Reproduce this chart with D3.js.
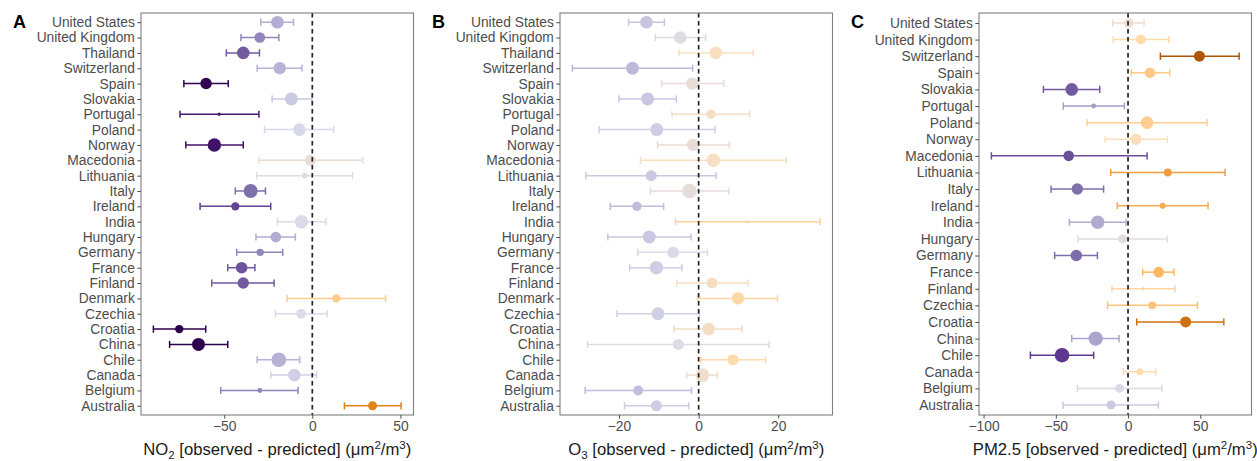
<!DOCTYPE html>
<html lang="en">
<head>
    <meta charset="utf-8">
    <title>Observed - predicted by country</title>
    <style>
        body { margin: 0; background: #fff; }
        svg text { font-family: "Liberation Sans", Arial, sans-serif; }
        .axis text { fill: #4d4d4d; font-size: 13.8px; }
        .axis line { stroke: #4d4d4d; }
        .axis .domain { display: none; }
        .frame { fill: none; stroke: #7f7f7f; stroke-width: 1.1px; }
        .zero { stroke: #222; stroke-width: 1.7px; stroke-dasharray: 4.5, 3.5; }
        .bar { fill: none; stroke-width: 1.5px; }
        .letter { font-size: 18px; font-weight: bold; fill: #000; }
        .xtitle { font-size: 16.7px; fill: #1a1a1a; }
    </style>
</head>
<body>

<script src="https://cdn.jsdelivr.net/npm/d3@7"></script>

<script>

    // countries, top to bottom
    var countriesAB = ["United States", "United Kingdom", "Thailand", "Switzerland", "Spain", "Slovakia",
        "Portugal", "Poland", "Norway", "Macedonia", "Lithuania", "Italy", "Ireland", "India", "Hungary",
        "Germany", "France", "Finland", "Denmark", "Czechia", "Croatia", "China", "Chile", "Canada",
        "Belgium", "Australia"];
    var countriesC = ["United States", "United Kingdom", "Switzerland", "Spain", "Slovakia", "Portugal",
        "Poland", "Norway", "Macedonia", "Lithuania", "Italy", "Ireland", "India", "Hungary", "Germany",
        "France", "Finland", "Czechia", "Croatia", "China", "Chile", "Canada", "Belgium", "Australia"];

    // NO2
    var no2Est = [-19.8, -29.8, -39.2, -18.5, -60.3, -11.9, -52.9, -7.3, -55.6, -1.1, -4.3, -35.0, -43.7,
        -6.2, -20.7, -29.6, -40.1, -39.2, 13.6, -6.4, -75.5, -64.6, -19.0, -10.2, -29.8, 34.2];
    var no2Lo = [-29.2, -40.5, -48.8, -31.3, -72.9, -22.8, -75.1, -27.1, -71.8, -30.3, -31.6, -43.7, -63.7,
        -19.8, -32.0, -42.9, -48.0, -57.1, -14.3, -20.9, -90.2, -81.0, -31.3, -23.6, -52.0, 18.2];
    var no2Hi = [-10.7, -19.0, -30.0, -5.9, -47.7, -0.2, -30.3, 12.2, -39.2, 28.6, 22.8, -26.6, -23.6,
        7.7, -9.6, -16.8, -32.6, -21.7, 41.6, 8.5, -60.5, -48.0, -7.2, 2.4, -8.1, 50.4];
    var no2N = [71, 50, 71, 68, 58, 75, 5, 71, 80, 54, 14, 87, 31, 80, 50, 24, 60, 58, 31, 41, 31, 75, 95, 71, 11, 36];
    var no2Ticks = [-50, 0, 50];

    // O3
    var o3Est = [-13.1, -4.6, 4.3, -16.6, -1.6, -12.8, 3.1, -10.5, -1.4, 3.7, -11.9, -2.3, -15.5,
        12.2, -12.4, -6.4, -10.6, 3.4, 9.9, -10.2, 2.5, -5.1, 8.6, 1.0, -15.2, -10.6];
    var o3Lo = [-17.6, -10.9, -4.9, -31.7, -9.3, -20.0, -6.7, -25.0, -10.3, -14.6, -28.3, -12.1, -22.2,
        -5.8, -22.8, -15.3, -17.3, -5.5, -0.3, -20.5, -6.2, -27.9, 0.5, -3.0, -28.5, -18.6];
    var o3Hi = [-8.6, 1.8, 13.7, -1.5, 6.3, -5.6, 12.8, 4.1, 7.7, 22.0, 4.4, 7.6, -8.8,
        30.5, -1.9, 2.2, -4.2, 12.4, 19.8, 0.2, 10.9, 17.7, 16.8, 4.7, -1.8, -2.5];
    var o3N = [71, 68, 71, 75, 68, 75, 39, 75, 68, 80, 54, 95, 39, 4, 75, 58, 80, 54, 68, 75, 71, 54, 54, 82, 44, 54];
    var o3Ticks = [-20, 0, 20];

    // PM2.5
    var pmEst = [0.5, 8.8, 49.4, 15.2, -39.0, -23.8, 13.2, 5.5, -41.1, 27.5, -35.1, 24.0, -21.0, -3.7,
        -35.8, 21.2, 10.6, 16.8, 39.9, -22.4, -45.7, 8.1, -5.8, -11.8];
    var pmLo = [-10.6, -10.2, 22.4, 2.1, -58.6, -44.8, -28.4, -15.9, -94.6, -12.0, -53.3, -7.4, -40.6, -34.6,
        -50.8, 10.1, -11.1, -14.1, 6.0, -39.0, -67.6, -3.2, -35.1, -45.0];
    var pmHi = [11.1, 28.2, 76.9, 28.9, -19.6, -2.5, 54.7, 27.2, 13.2, 67.2, -16.9, 55.4, -1.4, 27.2,
        -21.2, 31.8, 32.5, 48.0, 66.3, -6.2, -23.8, 19.2, 23.5, 21.0];
    var pmN = [39, 44, 54, 50, 71, 11, 71, 58, 50, 28, 58, 16, 80, 36, 58, 50, 5, 28, 54, 92, 95, 22, 36, 36];
    var pmTicks = [-100, -50, 0, 50];

    var puor = ["#2d004b", "#542788", "#8073ac", "#b2abd2", "#d8daeb",
                "#fee0b6", "#fdb863", "#e08214", "#b35806", "#7f3b08"];

    // ************** Layout *****************
    var width = 1257,
        height = 461,
        panelW = width / 3,
        margin = {top: 13, right: 5.5, bottom: 46, left: 141};

    var colour = d3.scaleSequential(d3.piecewise(d3.interpolateLab, puor))
        .domain([-62, 62])
        .clamp(true);

    var size = d3.scaleSqrt()
        .domain([0, 100])
        .range([0, 7.5]);

    var svg = d3.select("body").append("svg")
        .attr("width", width)
        .attr("height", height);

    var panels = [
        {letter: "A", countries: countriesAB, est: no2Est, lo: no2Lo, hi: no2Hi, n: no2N, ticks: no2Ticks, gas: "NO", sub: "2"},
        {letter: "B", countries: countriesAB, est: o3Est, lo: o3Lo, hi: o3Hi, n: o3N, ticks: o3Ticks, gas: "O", sub: "3"},
        {letter: "C", countries: countriesC, est: pmEst, lo: pmLo, hi: pmHi, n: pmN, ticks: pmTicks, gas: "PM2.5", sub: null}
    ];

    panels.forEach(drawPanel);

    function drawPanel(p, i) {

        var g = svg.append("g")
            .attr("transform", "translate(" + (i * panelW) + ",0)");

        var rows = p.countries.map(function(c, j) {
            return {country: c, est: p.est[j], lo: p.lo[j], hi: p.hi[j], n: p.n[j]};
        });

        // ggplot-like 5% expansion
        var lo = d3.min(p.lo), hi = d3.max(p.hi), pad = (hi - lo) * 0.05;

        var x = d3.scaleLinear()
            .domain([lo - pad, hi + pad])
            .range([margin.left, panelW - margin.right]);

        var y = d3.scalePoint()
            .domain(p.countries)
            .range([margin.top, height - margin.bottom])
            .padding(0.6);

        // error bars
        var bars = g.selectAll("g.bar")
            .data(rows)
            .enter().append("g")
            .attr("class", "bar")
            .style("stroke", function(d) { return colour(d.est); });

        bars.append("line")
            .attr("x1", function(d) { return x(d.lo); })
            .attr("x2", function(d) { return x(d.hi); })
            .attr("y1", function(d) { return y(d.country); })
            .attr("y2", function(d) { return y(d.country); });

        bars.append("line")
            .attr("x1", function(d) { return x(d.lo); })
            .attr("x2", function(d) { return x(d.lo); })
            .attr("y1", function(d) { return y(d.country) - 3.6; })
            .attr("y2", function(d) { return y(d.country) + 3.6; });

        bars.append("line")
            .attr("x1", function(d) { return x(d.hi); })
            .attr("x2", function(d) { return x(d.hi); })
            .attr("y1", function(d) { return y(d.country) - 3.6; })
            .attr("y2", function(d) { return y(d.country) + 3.6; });

        // points
        g.selectAll("circle.pt")
            .data(rows)
            .enter().append("circle")
            .attr("class", "pt")
            .attr("cx", function(d) { return x(d.est); })
            .attr("cy", function(d) { return y(d.country); })
            .attr("r", function(d) { return size(d.n); })
            .style("fill", function(d) { return colour(d.est); });

        // zero line
        g.append("line")
            .attr("class", "zero")
            .attr("x1", x(0)).attr("x2", x(0))
            .attr("y1", margin.top).attr("y2", height - margin.bottom);

        g.append("rect")
            .attr("class", "frame")
            .attr("x", margin.left)
            .attr("y", margin.top)
            .attr("width", panelW - margin.right - margin.left)
            .attr("height", height - margin.bottom - margin.top);

        g.append("g")
            .attr("class", "axis")
            .attr("transform", "translate(" + margin.left + ",0)")
            .call(d3.axisLeft(y).tickSize(3.7).tickPadding(2.5));

        g.append("g")
            .attr("class", "axis")
            .attr("transform", "translate(0," + (height - margin.bottom) + ")")
            .call(d3.axisBottom(x).tickValues(p.ticks).tickSize(3.7).tickPadding(2.5));

        g.append("text")
            .attr("class", "letter")
            .attr("x", 13)
            .attr("y", 28)
            .text(p.letter);

        // x axis title with sub/superscripts
        var t = g.append("text")
            .attr("class", "xtitle")
            .attr("text-anchor", "middle")
            .attr("x", (margin.left + panelW - margin.right) / 2)
            .attr("y", 455);

        t.append("tspan").text(p.gas);
        if (p.sub) {
            t.append("tspan").attr("dy", 4).style("font-size", "11.5px").text(p.sub);
            t.append("tspan").attr("dy", -4).text(" [observed - predicted] (\u03bcm");
        } else {
            t.append("tspan").text(" [observed - predicted] (\u03bcm");
        }
        t.append("tspan").attr("dy", -6.5).style("font-size", "11.5px").text("2");
        t.append("tspan").attr("dy", 6.5).text("/m");
        t.append("tspan").attr("dy", -6.5).style("font-size", "11.5px").text("3");
        t.append("tspan").attr("dy", 6.5).text(")");
    }

</script>

</body>
</html>
